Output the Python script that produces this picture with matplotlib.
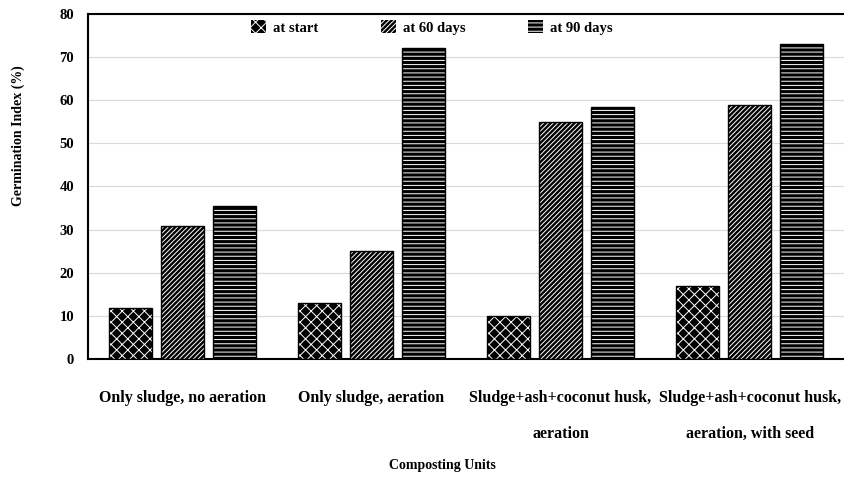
import matplotlib.pyplot as plt
import numpy as np

plt.rcParams['font.family'] = ['Liberation Serif', 'DejaVu Serif']
plt.rcParams['font.weight'] = 'bold'
plt.rcParams['axes.labelweight'] = 'bold'
plt.rcParams['hatch.linewidth'] = 0.7

units = ["Only sludge, no aeration", "Only sludge, aeration",
         "Sludge+ash+coconut husk,\naeration", "Sludge+ash+coconut husk,\naeration, with seed"]
at_start = [11.8, 13.0, 10.0, 17.0]
at_60 = [30.9, 25.1, 55.0, 58.8]
at_90 = [35.5, 72.0, 58.5, 73.0]

series = [("at start", at_start, "xxx"), ("at 60 days", at_60, "///////"), ("at 90 days", at_90, "----")]

fig = plt.figure(figsize=(8.45, 4.78), dpi=100)
ax = fig.add_axes([0.104, 0.249, 0.895, 0.722])

x = np.arange(len(units))
w = 0.226
step = 0.274
for i, (name, vals, h) in enumerate(series):
    # white hatch on black, then a black outline on top
    ax.bar(x + (i - 1) * step, vals, w, color="black", edgecolor="white",
           hatch=h, linewidth=0, label=name, zorder=3)
    ax.bar(x + (i - 1) * step, vals, w, fill=False, edgecolor="black",
           linewidth=1.0, zorder=4)

ax.set_xlim(-0.5, 3.5)
ax.set_ylim(0, 80)
ax.set_yticks(range(0, 81, 10))
ax.grid(axis="y", color="#d9d9d9", linewidth=0.8, zorder=0)
ax.tick_params(length=0, labelsize=10.5, pad=10)
ax.set_xticks(x)
ax.set_xticklabels(units, fontsize=11.5, linespacing=2.7, va="top")
ax.tick_params(axis="x", pad=22)
for s in ["left", "top", "bottom"]:
    ax.spines[s].set_linewidth(1.5)
ax.spines["right"].set_visible(False)

ax.set_ylabel("Germination Index (%)", fontsize=10, labelpad=18)
ax.yaxis.set_label_coords(-0.083, 0.646)
fig.text(0.524, 1 - 466 / 478, "Composting Units", fontsize=10, fontweight="bold",
         ha="center", va="center")

ax.legend(loc="upper center", bbox_to_anchor=(0.455, 1.02), ncol=3, frameon=False,
          fontsize=10.5, handlelength=1.0, handleheight=1.0, columnspacing=4.3, handletextpad=0.5)

fig.savefig("out.png", dpi=100)
